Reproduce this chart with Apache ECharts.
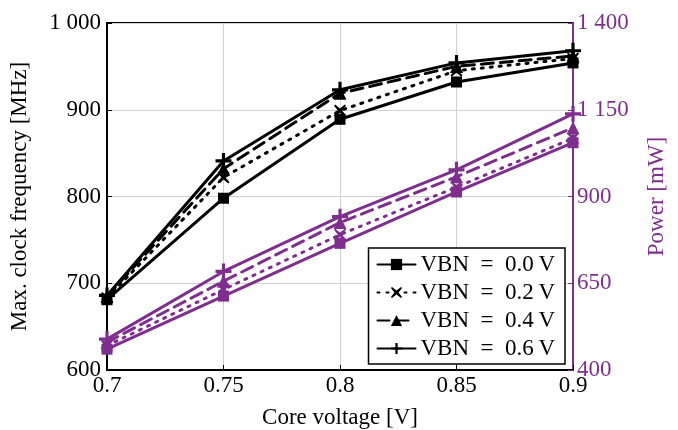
<!DOCTYPE html>
<html><head><meta charset="utf-8">
<script src="https://cdn.jsdelivr.net/npm/echarts@6/dist/echarts.min.js"></script>
<style>html,body{margin:0;padding:0;background:#fff}#c{width:678px;height:430px}</style>
</head><body><div id="c"></div>
<script>
var voltages = [0.7, 0.75, 0.8, 0.85, 0.9];
var seriesNames = ['VBN\u2002=\u20020.0\u2009V', 'VBN\u2002=\u20020.2\u2009V', 'VBN\u2002=\u20020.4\u2009V', 'VBN\u2002=\u20020.6\u2009V'];
var freq00 = [681, 798, 889, 932, 954];
var freq02 = [683, 822, 899, 945, 959];
var freq04 = [685, 832, 919, 950, 962];
var freq06 = [686, 841, 923, 954, 968];
var pow00 = [460, 613, 765, 913, 1055];
var pow02 = [470, 632, 790, 927, 1068];
var pow04 = [480, 656, 825, 957, 1098];
var pow06 = [489, 684, 842, 977, 1138];
var freqTicks = [600, 700, 800, 900, 1000];
var powTicks = [400, 650, 900, 1150, 1400];

var PURPLE = '#7e2f8e';
var FONT = 'Liberation Serif';
var FS = 23;
var crossPath = 'path://M1,0 L5,3.2 L9,0 L10,1 L6.8,5 L10,9 L9,10 L5,6.8 L1,10 L0,9 L3.2,5 L0,1 Z';
var plusPath = 'path://M4,0 L6,0 L6,4 L10,4 L10,6 L6,6 L6,10 L4,10 L4,6 L0,6 L0,4 L4,4 Z';
var symbols = ['rect', crossPath, 'triangle', plusPath];
var symSizes = [11, 12, 13, 16];
var lineTypes = ['solid', [2, 7], [12, 7], 'solid'];
var freqs = [freq00, freq02, freq04, freq06];
var pows = [pow00, pow02, pow04, pow06];

function fmtThousands(v){ var s = String(v); return s.length > 3 ? s.slice(0, s.length-3) + ' ' + s.slice(-3) : s; }
function pairs(arr){ return voltages.map(function(x,i){ return [x, arr[i]]; }); }

var series = [];
for (var k = 0; k < 4; k++) {
  series.push({
    name: 'p' + k, type: 'line', yAxisIndex: 1, data: pairs(pows[k]),
    symbol: symbols[k], symbolSize: symSizes[k],
    lineStyle: {color: PURPLE, width: 3, type: lineTypes[k], cap: 'round'},
    itemStyle: {color: PURPLE}, z: 2
  });
}
for (var k = 0; k < 4; k++) {
  series.push({
    name: seriesNames[k], type: 'line', yAxisIndex: 0, data: pairs(freqs[k]),
    symbol: symbols[k], symbolSize: symSizes[k],
    lineStyle: {color: '#000', width: 3, type: lineTypes[k], cap: 'round'},
    itemStyle: {color: '#000'}, z: 3
  });
}

var chart = echarts.init(document.getElementById('c'));
chart.setOption({
  animation: false,
  backgroundColor: '#fff',
  textStyle: {fontFamily: FONT},
  grid: {left: 107, right: 105, top: 23, bottom: 60, outerBoundsMode: 'none', containLabel: false,
    show: true, borderColor: '#000', borderWidth: 2, backgroundColor: 'transparent'},
  legend: {
    data: seriesNames, orient: 'vertical', right: 113, bottom: 66,
    backgroundColor: '#fff', borderColor: '#000', borderWidth: 1.5, borderRadius: 0,
    padding: [5, 10, 4, 8], itemGap: 5, itemWidth: 38, itemHeight: 14,
    textStyle: {fontFamily: FONT, fontSize: FS, color: '#000'}
  },
  xAxis: {
    type: 'value', min: 0.7, max: 0.9, interval: 0.05,
    name: 'Core voltage [V]', nameLocation: 'middle', nameGap: 36,
    nameTextStyle: {fontFamily: FONT, fontSize: FS, color: '#000'},
    axisLine: {show: true, lineStyle: {color: '#000', width: 2}},
    axisTick: {show: true, inside: true, length: 5, lineStyle: {color: '#000'}},
    axisLabel: {fontFamily: FONT, fontSize: FS, color: '#000', margin: 4,
      formatter: function(v){ return String(Math.round(v*100)/100); }},
    splitLine: {show: true, lineStyle: {color: '#d0d0d0', width: 1}}
  },
  yAxis: [{
    type: 'value', min: 600, max: 1000, interval: 100, position: 'left',
    name: 'Max. clock frequency [MHz]', nameLocation: 'middle', nameGap: 76,
    nameTextStyle: {fontFamily: FONT, fontSize: FS, color: '#000'},
    axisLine: {show: true, lineStyle: {color: '#000', width: 2}},
    axisTick: {show: true, inside: true, length: 5, lineStyle: {color: '#000'}},
    axisLabel: {fontFamily: FONT, fontSize: FS, color: '#000', margin: 6, formatter: fmtThousands},
    splitLine: {show: true, lineStyle: {color: '#d0d0d0', width: 1}}
  }, {
    type: 'value', min: 400, max: 1400, interval: 250, position: 'right',
    name: 'Power [mW]', nameLocation: 'middle', nameGap: 72, nameRotate: 90,
    nameTextStyle: {fontFamily: FONT, fontSize: FS, color: PURPLE},
    axisLine: {show: true, lineStyle: {color: PURPLE, width: 2}},
    axisTick: {show: true, inside: true, length: 5, lineStyle: {color: PURPLE}},
    axisLabel: {fontFamily: FONT, fontSize: FS, color: PURPLE, margin: 4, formatter: fmtThousands},
    splitLine: {show: false}
  }],
  series: series
});
</script></body></html>
